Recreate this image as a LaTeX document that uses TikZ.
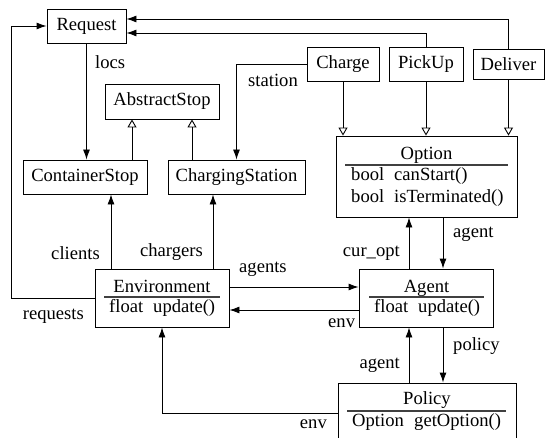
\documentclass[tikz,border=0pt]{standalone}
\usepackage{fontspec}
\setmainfont{Liberation Serif}
\usetikzlibrary{arrows.meta}
\begin{document}
\begin{tikzpicture}[x=1pt,y=-1pt,
  every node/.style={font=\fontsize{18.6}{22}\selectfont},
  box/.style={draw, line width=0.9pt, inner xsep=4pt, inner ysep=0pt, minimum height=34pt},
  cbox/.style={draw, line width=0.9pt, inner sep=0pt},
  txt/.style={inner sep=0pt},
  div/.style={line width=1.3pt, draw=black!75},
  arr/.style={line width=0.9pt, -{Latex[length=10pt,width=7pt]}},
  inh/.style={line width=0.9pt, -{Triangle[open,length=8pt,width=9pt]}}
]
\useasboundingbox (0,0) rectangle (545,438);

% simple boxes
\node[box, minimum width=79pt] (req) at (86.5,26) {Request};
\node[box, minimum width=114pt, minimum height=35pt] (abs) at (162,101.5) {AbstractStop};
\node[box, minimum width=124pt] (cont) at (85,177) {ContainerStop};
\node[box, minimum width=137pt] (chs) at (236.5,177) {ChargingStation};
\node[box, minimum width=72pt] (chg) at (343,64) {Charge};
\node[box, minimum width=74pt] (pick) at (426,64) {PickUp};
\node[box, minimum width=71pt, minimum height=30pt] (dlv) at (508.5,64) {Deliver};

% Option
\node[cbox, minimum width=181pt, minimum height=81pt] (opt) at (426.5,176.5) {};
\node[txt, anchor=base] (optT) at (426.5,160) {Option};
\draw[div] (345,165) -- (508,165);
\node[txt, anchor=base west] (optA1) at (351,181) {bool};
\node[txt, anchor=base west] (optB1) at (394,181) {canStart()};
\node[txt, anchor=base west] (optA2) at (351,202) {bool};
\node[txt, anchor=base west] (optB2) at (394,202) {isTerminated()};

% Agent
\node[cbox, minimum width=134pt, minimum height=58pt] (agent) at (426,298) {};
\node[txt, anchor=base] (agT) at (426.5,292) {Agent};
\draw[div] (369,297) -- (484,297);
\node[txt, anchor=base west] (agA) at (374,312) {float};
\node[txt, anchor=base west] (agB) at (418,312) {update()};

% Environment
\node[cbox, minimum width=134pt, minimum height=58pt] (env) at (162,298) {};
\node[txt, anchor=base] (enT) at (162,292) {Environment};
\draw[div] (104,297) -- (220,297);
\node[txt, anchor=base west] (enA) at (109,312) {float};
\node[txt, anchor=base west] (enB) at (153,312) {update()};

% Policy
\node[cbox, minimum width=178pt, minimum height=60pt] (pol) at (427,413) {};
\node[txt, anchor=base] (poT) at (427,404) {Policy};
\draw[div] (347,411) -- (506,411);
\node[txt, anchor=base west] (poA) at (352,426) {Option};
\node[txt, anchor=base west] (poB) at (414,426) {getOption()};

% connectors
\draw[arr] (req.south) -- (req.south |- cont.north);
\node[txt, anchor=west] (lLocs) at (95,62) {locs};

\coordinate (c1) at ([xshift=47pt]cont.north);
\draw[inh] (c1) -- (c1 |- abs.south);
\coordinate (c2) at ([xshift=-44.5pt]chs.north);
\draw[inh] (c2) -- (c2 |- abs.south);

\draw[arr] (chg.west) -| (chs.north);
\node[txt] (lStation) at (273,80) {station};

\coordinate (r1) at ([yshift=-7pt]req.east);
\coordinate (r2) at ([yshift=7pt]req.east);
\draw[arr] (pick.north) |- (r1);
\draw[arr] (dlv.north) |- (r2);

\draw[inh] (chg.south) -- (chg.south |- opt.north);
\draw[inh] (pick.south) -- (pick.south |- opt.north);
\draw[inh] (dlv.south) -- (dlv.south |- opt.north);

\coordinate (a1) at ([xshift=17pt]agent.north);
\coordinate (a2) at ([xshift=-17pt]agent.north);
\draw[arr] (a1 |- opt.south) -- (a1);
\draw[arr] (a2) -- (a2 |- opt.south);
\node[txt, anchor=base west] (lAgent1) at (453,237) {agent};
\node[txt, anchor=base east] (lCur) at (400,256) {cur\_opt};

\coordinate (e1) at ([yshift=11pt]env.east);
\coordinate (e2) at ([yshift=-12pt]env.east);
\draw[arr] (e1) -- (e1 -| agent.west);
\draw[arr] (e2 -| agent.west) -- (e2);
\node[txt, anchor=base west] (lAgents) at (239,272) {agents};
\node[txt, anchor=base west] (lEnv1) at (328,327) {env};

\coordinate (p1) at ([xshift=17pt]agent.south);
\coordinate (p2) at ([xshift=-17pt]agent.south);
\draw[arr] (p1) -- (p1 |- pol.north);
\draw[arr] (p2 |- pol.north) -- (p2);
\node[txt, anchor=base west] (lPolicy) at (453,350) {policy};
\node[txt, anchor=base east] (lAgent2) at (400,368) {agent};

\draw[arr] (pol.west) -| (env.south);
\node[txt, anchor=base east] (lEnv2) at (327,428) {env};

\draw[arr] (env.west) -- ++(-83,0) |- (req.west);
\node[txt, anchor=base east] (lReq) at (84,319) {requests};

\coordinate (k1) at ([xshift=-51pt]env.north);
\coordinate (k2) at ([xshift=51pt]env.north);
\draw[arr] (k1) -- (k1 |- cont.south);
\draw[arr] (k2) -- (k2 |- chs.south);
\node[txt, anchor=base east] (lClients) at (100,259) {clients};
\node[txt, anchor=base east] (lChargers) at (203,256) {chargers};
\end{tikzpicture}
\end{document}
